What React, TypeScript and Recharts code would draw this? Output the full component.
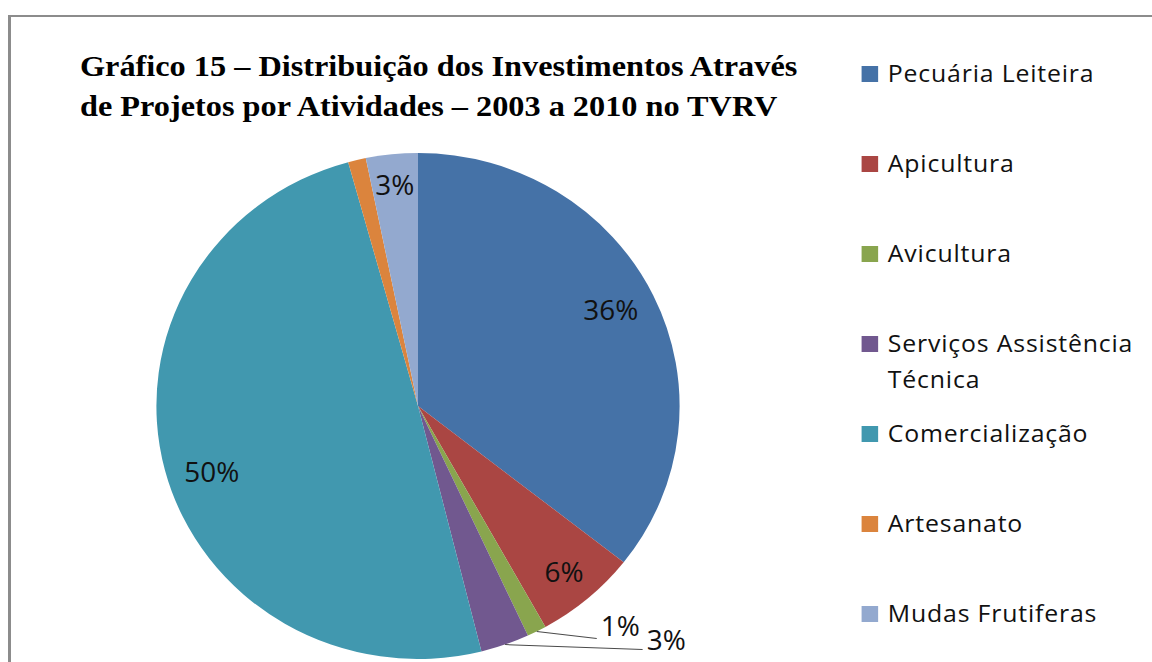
import React from 'react';
import { PieChart, Pie, Cell, Legend } from 'recharts';

const categories = [
  'Pecuária Leiteira',
  'Apicultura',
  'Avicultura',
  'Serviços Assistência Técnica',
  'Comercialização',
  'Artesanato',
  'Mudas Frutiferas',
];
const values = [35.6, 6.3, 1.2, 3.0, 49.6, 1.1, 3.2];
const colors = ['#4572A7', '#AA4643', '#89A54E', '#71588F', '#4198AF', '#DB843D', '#93A9CF'];
const titleLines = [
  'Gráfico 15 – Distribuição dos Investimentos Através',
  'de Projetos por Atividades – 2003 a 2010 no TVRV',
];

const data = categories.map((name, i) => ({ name, value: values[i] }));

const RAD = Math.PI / 180;
const LABEL_FONT = "'Open Sans', 'Noto Sans', sans-serif";
const SX = 1.034;
const CX = 418;
const CY = 406;
const labelRadius = [0.83, 0.86, 1, 1, 0.83, 1, 0.88];
const labelAngleShift = [1.5, 0, 0, 0, 3.5, 0, 0];

const renderLabel = (p: any) => {
  const { cx, cy, midAngle, outerRadius, percent, index } = p;
  if (index === 5) return null;
  const txt = `${Math.round(percent * 100)}%`;
  const ang = midAngle + labelAngleShift[index];
  const cos = Math.cos(-ang * RAD);
  const sin = Math.sin(-ang * RAD);
  if (index === 2 || index === 3) {
    const sx = cx + outerRadius * Math.cos(-midAngle * RAD);
    const sy = cy + outerRadius * Math.sin(-midAngle * RAD);
    const off = index === 2 ? [58, 7] : [133, 5];
    const ex = sx + off[0];
    const ey = sy + off[1];
    return (
      <g key={`lbl-${index}`}>
        <path d={`M${sx},${sy}L${ex},${ey}`} stroke="#4a4a4a" strokeWidth={1} fill="none" />
        <text x={ex + 4} y={index === 2 ? ey - 2 : ey} textAnchor="start" fill="#111" fontSize={27} fontFamily={LABEL_FONT}>
          {txt}
        </text>
      </g>
    );
  }
  const r = outerRadius * labelRadius[index];
  return (
    <text
      key={`lbl-${index}`}
      x={cx + r * cos}
      y={cy + r * sin}
      textAnchor="middle"
      dominantBaseline="central"
      fill="#111"
      fontSize={27}
      fontFamily={LABEL_FONT}
    >
      {txt}
    </text>
  );
};

const renderLegend = (props: any) => {
  const payload = [...(props.payload || [])].sort(
    (a: any, b: any) => categories.indexOf(a.value) - categories.indexOf(b.value)
  );
  return (
    <div style={{ fontFamily: LABEL_FONT, fontSize: 24, letterSpacing: 0.8, color: '#111' }}>
      {payload.map((entry: any, i: number) => (
        <div key={i} style={{ height: 90, display: 'flex', alignItems: 'flex-start' }}>
          <div style={{ width: 16, height: 16, background: entry.color, marginTop: 11, marginRight: 9, flex: '0 0 16px' }} />
          <div style={{ lineHeight: '36px', width: 250 }}>{entry.value}</div>
        </div>
      ))}
    </div>
  );
};

export default function App() {
  return (
    <div style={{ position: 'absolute', left: 0, top: 0, width: 1152, height: 662, overflow: 'hidden', background: '#fff' }}>
      <div
        style={{
          position: 'absolute',
          left: 8,
          top: 15,
          width: 1200,
          height: 700,
          borderLeft: '3px solid #8c8c8c',
          borderTop: '2px solid #8c8c8c',
        }}
      />
      <div
        style={{
          position: 'absolute',
          left: 0,
          top: 0,
          width: 1152,
          height: 662,
          transform: `scaleX(${SX})`,
          transformOrigin: `${CX}px ${CY}px`,
        }}
      >
        <PieChart width={1152} height={662} margin={{ top: 0, right: 0, bottom: 0, left: 0 }}>
          <Pie
            data={data}
            dataKey="value"
            nameKey="name"
            cx={CX}
            cy={CY}
            outerRadius={253}
            startAngle={90}
            endAngle={-270}
            stroke="none"
            label={renderLabel}
            labelLine={false}
            isAnimationActive={false}
          >
            {data.map((d, i) => (
              <Cell key={d.name} fill={colors[i]} />
            ))}
          </Pie>
          <Legend
            content={renderLegend}
            layout="vertical"
            itemSorter={null as any}
            wrapperStyle={{ position: 'absolute', left: CX + (862 - CX) / SX, top: 55, width: 280 }}
          />
        </PieChart>
      </div>
      <div
        style={{
          position: 'absolute',
          left: 80,
          top: 46,
          fontFamily: "'Liberation Serif', 'Times New Roman', serif",
          fontWeight: 'bold',
          fontSize: 30,
          lineHeight: '40px',
          color: '#000',
          whiteSpace: 'nowrap',
          transform: 'scaleX(1.076)',
          transformOrigin: '0 0',
        }}
      >
        {titleLines.map((t) => (
          <div key={t}>{t}</div>
        ))}
      </div>
    </div>
  );
}
